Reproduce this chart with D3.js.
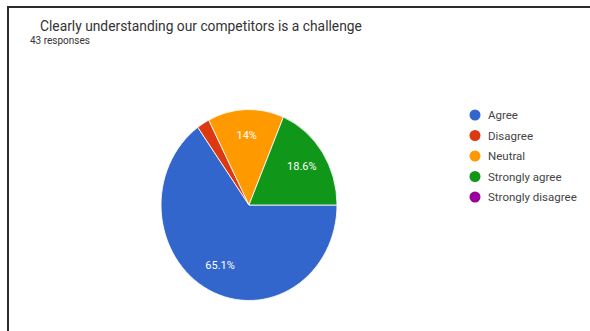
<!DOCTYPE html>
<html lang="en">
<head>
  <meta charset="utf-8">
  <title>Pie</title>
  <script src="https://d3js.org/d3.v7.min.js"></script>
  <style>
    body { margin: 0; background: #fff; }
    text { font-family: Roboto, "Noto Sans", sans-serif; }
  </style>
</head>
<body>
  <div id="chart"></div>
  <script type="text/javascript">
    "use strict"
    // respostas (43 no total)
    var categorias = ["Agree", "Disagree", "Neutral", "Strongly agree", "Strongly disagree"];
    var contagens = [28, 1, 6, 8, 0];
    var rotulos = ["65.1%", "", "14%", "18.6%", ""];
    var cores = ["#3366cc", "#dc3912", "#ff9900", "#109618", "#990099"];

    var larguraSVG = 590, alturaSVG = 331;
    var svg = d3.select('#chart').append('svg')
      .attr('width', larguraSVG)
      .attr('height', alturaSVG);

    // moldura (topo e esquerda)
    svg.append('path')
      .attr('d', 'M8,' + alturaSVG + 'V7H' + larguraSVG)
      .attr('fill', 'none')
      .attr('stroke', '#2b2b2b')
      .attr('stroke-width', 2);

    svg.append('text')
      .attr('x', 40).attr('y', 31)
      .attr('font-size', 13.8)
      .attr('fill', '#333')
      .text('Clearly understanding our competitors is a challenge');
    svg.append('text')
      .attr('x', 30).attr('y', 44)
      .attr('font-size', 10)
      .attr('fill', '#333')
      .text('43 responses');

    var dados = categorias.map((c, i) => ({cat: c, n: contagens[i], rot: rotulos[i], cor: cores[i]}));
    var pie = d3.pie().value(d => d.n).sort(null)
      .startAngle(Math.PI / 2).endAngle(Math.PI / 2 + 2 * Math.PI);
    var raio = 88, escY = 95.5 / 88;
    var arco = d3.arc().innerRadius(0).outerRadius(raio);
    var arcoRotulo = d3.arc().innerRadius(raio * 0.72).outerRadius(raio * 0.72);

    var cx = 249, cy = 205;
    var g = svg.append('g')
      .attr('transform', 'translate(' + cx + ',' + cy + ') scale(1,' + escY + ')');
    var fatias = pie(dados);
    g.selectAll('path')
      .data(fatias.filter(d => d.data.n > 0))
      .enter().append('path')
        .attr('d', arco)
        .attr('fill', d => d.data.cor)
        .attr('stroke', '#fff')
        .attr('stroke-width', 0.8);

    svg.append('g')
      .attr('transform', 'translate(' + cx + ',' + cy + ')')
      .selectAll('text')
      .data(fatias.filter(d => d.data.rot))
      .enter().append('text')
        .attr('x', d => arcoRotulo.centroid(d)[0])
        .attr('y', d => arcoRotulo.centroid(d)[1] * escY + 3)
        .attr('text-anchor', 'middle')
        .attr('font-size', 11)
        .attr('fill', '#fff')
        .text(d => d.data.rot);

    // legenda
    var leg = svg.append('g').attr('transform', 'translate(475,115)');
    var itens = leg.selectAll('g').data(dados).enter().append('g')
      .attr('transform', (d, i) => 'translate(0,' + (i * 20.5) + ')');
    itens.append('circle').attr('r', 5.5).attr('fill', d => d.cor);
    itens.append('text')
      .attr('x', 13).attr('y', 4)
      .attr('font-size', 11.5)
      .attr('fill', '#444')
      .text(d => d.cat);
  </script>
</body>
</html>
